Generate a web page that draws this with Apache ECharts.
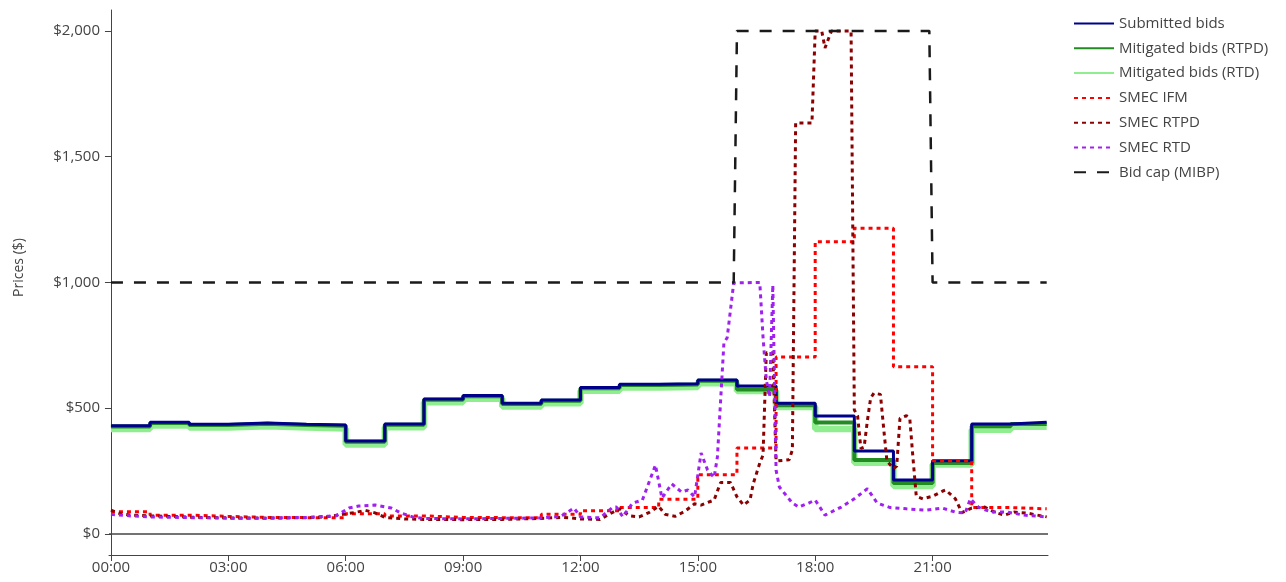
<!DOCTYPE html>
<html><head><meta charset="utf-8">
<script src="https://cdn.jsdelivr.net/npm/echarts@6/dist/echarts.min.js"></script>
<style>html,body{margin:0;padding:0;background:#fff}#c{width:1286px;height:582px}</style>
</head><body><div id="c"></div>
<script>
// Hour starts for hourly-stepped series
const hourStarts = ["00:00","01:00","02:00","03:00","04:00","05:00","06:00","07:00","08:00","09:00","10:00","11:00",
  "12:00","13:00","14:00","15:00","16:00","17:00","18:00","19:00","20:00","21:00","22:00","23:00"];
const dayEnd = "23:55";

const submittedBids = [430,444,436,441,436,433,370,437,537,551,520,533,582,595,597,612,588,520,469,330,215,291,437,444];
const mitigatedRTPD = [427,441,433,438,433,430,367,434,534,548,517,530,579,592,594,609,574,512,443,294,203,282,428,437];
const mitigatedRTD  = [417,431,423,428,423,419,356,424,524,538,507,520,569,582,584,599,568,505,417,283,191,276,414,426];
const smecIFM       = [88,75,70,66,65,65,80,72,66,65,65,78,92,105,138,236,342,704,1162,1215,665,291,105,100];

const smecRTPDTimes = ["00:00","00:15","00:30","01:00","01:30","02:00","03:00","04:00","05:00","05:30","06:00","06:15","06:30","06:45","07:00","07:30","08:00","09:00","10:00","11:00","11:30","11:45","12:00","12:30","12:45","13:00","13:15","13:30","13:45","14:00","14:10","14:25","14:40","14:55","15:05","15:25","15:35","15:50","16:00","16:10","16:20","16:25","16:35","16:40","16:45","16:55","17:00","17:20","17:25","17:30","17:55","18:00","18:10","18:15","18:25","18:55","19:00","19:05","19:10","19:15","19:20","19:25","19:30","19:40","19:45","19:50","20:00","20:05","20:10","20:20","20:25","20:30","20:35","20:45","21:00","21:15","21:20","21:35","21:45","22:00","22:20","22:35","22:50","23:05","23:25","23:55"];
const smecRTPDValues = [95,80,75,72,70,67,64,63,65,68,80,86,94,84,66,60,58,57,58,62,66,64,60,58,80,100,72,68,85,110,78,70,90,120,115,135,205,205,148,115,135,200,282,314,720,720,290,295,334,1634,1634,2000,2000,1932,2000,2000,493,470,340,345,450,540,560,555,420,290,260,270,460,470,460,300,150,140,150,170,175,140,85,103,107,87,75,87,83,68];

const smecRTDTimes = ["00:00","00:30","01:00","02:00","03:00","04:00","05:00","05:45","06:05","06:20","06:45","07:10","07:25","07:45","08:00","09:00","10:00","11:00","11:30","11:50","12:00","12:30","12:50","12:55","13:05","13:20","13:35","13:55","14:05","14:20","14:35","14:45","14:55","15:05","15:15","15:25","15:30","15:40","15:45","15:55","16:35","16:40","16:45","16:50","16:55","17:00","17:05","17:25","17:35","17:50","18:00","18:15","18:40","19:00","19:20","19:35","19:55","20:20","20:50","21:15","21:35","21:50","21:58","22:10","22:30","22:55","23:20","23:55"];
const smecRTDValues = [78,72,68,65,63,63,66,72,103,111,115,103,83,66,62,60,62,64,70,103,68,64,107,107,68,123,135,274,143,199,167,175,147,322,254,225,306,760,780,998,1000,783,612,545,990,254,187,123,107,123,135,75,107,140,180,123,105,100,95,103,87,83,140,107,87,87,75,68];

const bidCapTimes  = ["00:00","15:55","16:00","20:55","21:00","23:55"];
const bidCapValues = [1000,1000,2000,2000,1000,1000];

const xTickLabels = ["00:00","03:00","06:00","09:00","12:00","15:00","18:00","21:00"];
const yTickValues = [0,500,1000,1500,2000];

function toMin(s){const p=s.split(':');return (+p[0])*60+(+p[1]);}
function fmtMin(v){const h=Math.floor(v/60),m=Math.round(v%60);return String(h).padStart(2,'0')+':'+String(m).padStart(2,'0');}
function hourly(vals){const d=hourStarts.map((t,i)=>[toMin(t),vals[i]]);d.push([toMin(dayEnd),vals[vals.length-1]]);return d;}
function pairs(ts,vs){return ts.map((t,i)=>[toMin(t),vs[i]]);}

const FONT='Open Sans';
const chart=echarts.init(document.getElementById('c'));
const common={type:'line',symbol:'none',showSymbol:false,animation:false,silent:true};
const DOT=[4,4];
chart.setOption({
  animation:false,
  backgroundColor:'#fff',
  grid:{left:109,top:10,width:939,bottom:27,containLabel:false},
  legend:{orient:'vertical',left:1073,top:16,itemWidth:40,itemHeight:14,itemGap:9.8,padding:0,
    itemStyle:{opacity:0},lineStyle:{opacity:1},
    textStyle:{fontFamily:FONT,fontSize:15,color:'#444'},
    data:['Submitted bids','Mitigated bids (RTPD)','Mitigated bids (RTD)','SMEC IFM','SMEC RTPD','SMEC RTD','Bid cap (MIBP)']},
  xAxis:{type:'value',min:-3,max:1437,
    axisLine:{show:true,onZero:false,lineStyle:{color:'#444',width:1}},
    axisTick:{show:true,length:6,customValues:xTickLabels.map(toMin),lineStyle:{color:'#444'}},
    axisLabel:{customValues:xTickLabels.map(toMin),formatter:v=>fmtMin(v),color:'#444',fontFamily:FONT,fontSize:15,margin:5},
    splitLine:{show:false}},
  yAxis:{type:'value',min:-83.5,max:2083,
    name:'Prices ($)',nameLocation:'middle',nameGap:83,
    nameTextStyle:{fontFamily:FONT,fontSize:14,color:'#444',padding:[0,0,0,30]},
    axisLine:{show:true,lineStyle:{color:'#444',width:1}},
    axisTick:{show:true,length:6,customValues:yTickValues,lineStyle:{color:'#444'}},
    axisLabel:{customValues:yTickValues,formatter:v=>'$'+v.toLocaleString('en-US'),color:'#444',fontFamily:FONT,fontSize:15,margin:9},
    splitLine:{show:false}},
  series:[
    Object.assign({},common,{name:'Submitted bids',data:hourly(submittedBids),step:'end',z:5,
      lineStyle:{color:'#00008B',width:3},itemStyle:{color:'#00008B'},
      markLine:{silent:true,symbol:['none','none'],label:{show:false},animation:false,
        lineStyle:{color:'#444',width:1.5,type:'solid'},data:[{yAxis:0}]}}),
    Object.assign({},common,{name:'Mitigated bids (RTPD)',data:hourly(mitigatedRTPD),step:'end',z:4,
      lineStyle:{color:'#228B22',width:4},itemStyle:{color:'#228B22'}}),
    Object.assign({},common,{name:'Mitigated bids (RTD)',data:hourly(mitigatedRTD),step:'end',z:3,
      lineStyle:{color:'#90EE90',width:6.5},itemStyle:{color:'#90EE90'}}),
    Object.assign({},common,{name:'SMEC IFM',data:hourly(smecIFM),step:'end',z:6,
      lineStyle:{color:'#FF0000',width:3,type:DOT},itemStyle:{color:'#FF0000'}}),
    Object.assign({},common,{name:'SMEC RTPD',data:pairs(smecRTPDTimes,smecRTPDValues),z:6,
      lineStyle:{color:'#8B0000',width:3,type:DOT},itemStyle:{color:'#8B0000'}}),
    Object.assign({},common,{name:'SMEC RTD',data:pairs(smecRTDTimes,smecRTDValues),z:6,
      lineStyle:{color:'#A020F0',width:3,type:DOT},itemStyle:{color:'#A020F0'}}),
    Object.assign({},common,{name:'Bid cap (MIBP)',data:pairs(bidCapTimes,bidCapValues),z:7,
      lineStyle:{color:'#1a1a1a',width:2.5,type:[12,11]},itemStyle:{color:'#1a1a1a'}})
  ]
});
</script></body></html>
